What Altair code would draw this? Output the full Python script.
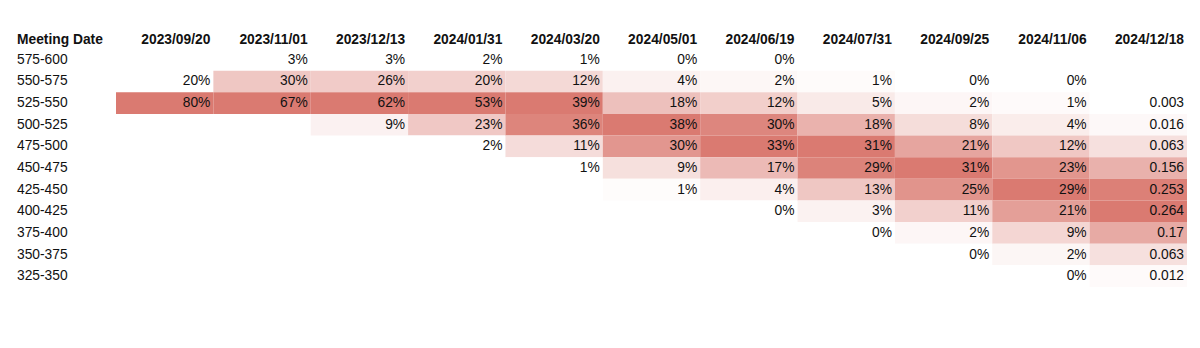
import altair as alt
import pandas as pd

dates = ["2023/09/20", "2023/11/01", "2023/12/13", "2024/01/31", "2024/03/20",
         "2024/05/01", "2024/06/19", "2024/07/31", "2024/09/25", "2024/11/06",
         "2024/12/18"]
ranges = ["575-600", "550-575", "525-550", "500-525", "475-500", "450-475",
          "425-450", "400-425", "375-400", "350-375", "325-350"]

# values per meeting date, top row (575-600) to bottom row (325-350); None = blank
v_2023_09_20 = [None, 20, 80, None, None, None, None, None, None, None, None]
v_2023_11_01 = [3, 30, 67, None, None, None, None, None, None, None, None]
v_2023_12_13 = [3, 26, 62, 9, None, None, None, None, None, None, None]
v_2024_01_31 = [2, 20, 53, 23, 2, None, None, None, None, None, None]
v_2024_03_20 = [1, 12, 39, 36, 11, 1, None, None, None, None, None]
v_2024_05_01 = [0, 4, 18, 38, 30, 9, 1, None, None, None, None]
v_2024_06_19 = [0, 2, 12, 30, 33, 17, 4, 0, None, None, None]
v_2024_07_31 = [None, 1, 5, 18, 31, 29, 13, 3, 0, None, None]
v_2024_09_25 = [None, 0, 2, 8, 21, 31, 25, 11, 2, 0, None]
v_2024_11_06 = [None, 0, 1, 4, 12, 23, 29, 21, 9, 2, 0]
v_2024_12_18 = [None, None, 0.003, 0.016, 0.063, 0.156, 0.253, 0.264, 0.17, 0.063, 0.012]

columns = [v_2023_09_20, v_2023_11_01, v_2023_12_13, v_2024_01_31, v_2024_03_20,
           v_2024_05_01, v_2024_06_19, v_2024_07_31, v_2024_09_25, v_2024_11_06,
           v_2024_12_18]

records = []
for d, col in zip(dates, columns):
    for r, v in zip(ranges, col):
        if v is not None:
            records.append({"date": d, "row": r, "v": v})
df = pd.DataFrame(records)

FONT = "Liberation Sans"
FS = 13.8
W = 1071
H = 238

xscale = alt.Scale(domain=dates, paddingInner=0, paddingOuter=0)
yscale = alt.Scale(domain=ranges, paddingInner=0, paddingOuter=0)

base = alt.Chart(df).transform_joinaggregate(
    vmin="min(v)", vmax="max(v)", groupby=["date"]
).transform_calculate(
    norm="(datum.v - datum.vmin) / (datum.vmax - datum.vmin)",
    label="datum.date == '2024/12/18' ? ('' + datum.v) : (datum.v + '%')",
)

rects = base.mark_rect(strokeWidth=0).encode(
    x=alt.X("date:N", scale=xscale, axis=None),
    y=alt.Y("row:N", scale=yscale, axis=None),
    color=alt.Color("norm:Q",
                    scale=alt.Scale(domain=[0, 1], range=["#ffffff", "#da7a71"],
                                    interpolate="rgb"),
                    legend=None),
)

texts = base.mark_text(align="right", baseline="middle", dx=-3, font=FONT,
                       fontSize=FS, color="#111111").encode(
    x=alt.X("date:N", scale=xscale, axis=None, bandPosition=1),
    y=alt.Y("row:N", scale=yscale, axis=None),
    text="label:N",
)

hdr_df = pd.DataFrame({"date": dates})
headers = alt.Chart(hdr_df).mark_text(align="right", baseline="middle", dx=-3,
                                      font=FONT, fontSize=FS, fontWeight="bold",
                                      color="#111111").encode(
    x=alt.X("date:N", scale=xscale, axis=None, bandPosition=1),
    y=alt.value(-9),
    text="date:N",
)

row_df = pd.DataFrame({"row": ranges})
row_labels = alt.Chart(row_df).mark_text(align="left", baseline="middle",
                                         font=FONT, fontSize=FS,
                                         color="#111111").encode(
    x=alt.value(-99),
    y=alt.Y("row:N", scale=yscale, axis=None),
    text="row:N",
)

corner = alt.Chart(pd.DataFrame({"t": ["Meeting Date"]})).mark_text(
    align="left", baseline="middle", font=FONT, fontSize=FS,
    fontWeight="bold", color="#111111").encode(
    x=alt.value(-99), y=alt.value(-9), text="t:N")

chart = alt.layer(rects, texts, headers, row_labels, corner).properties(
    width=W, height=H,
    autosize=alt.AutoSizeParams(type="none"),
    padding={"left": 116, "top": 49, "right": 13, "bottom": 61},
    background="#ffffff",
).configure_view(stroke=None)

chart.save("out.html", embed_options={"renderer": "svg", "actions": False})
